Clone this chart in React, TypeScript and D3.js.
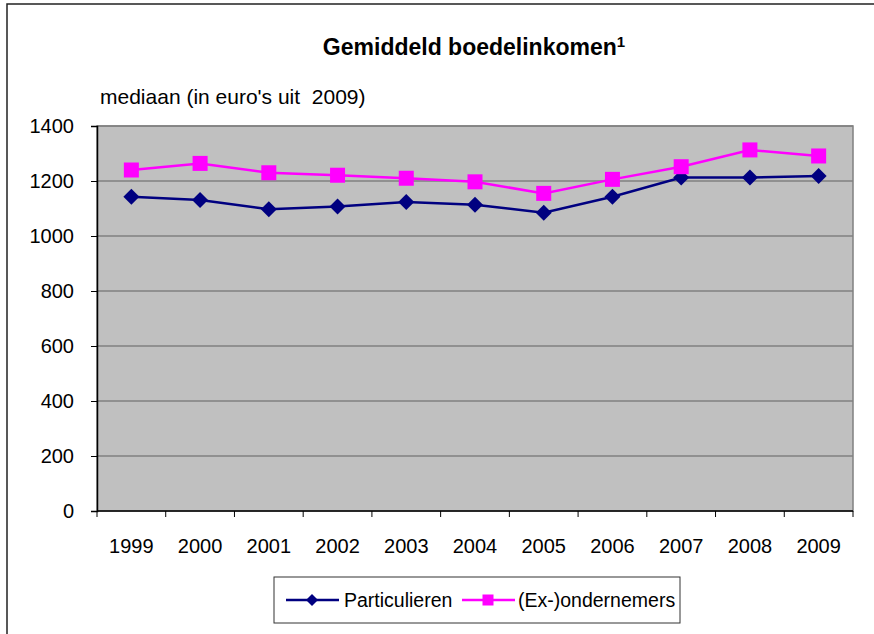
import React, { useEffect, useRef } from "react";
import * as d3 from "d3";

// jaren en mediane boedelinkomens (euro's van 2009)
const years = ["1999", "2000", "2001", "2002", "2003", "2004", "2005", "2006", "2007", "2008", "2009"];
const particulieren = [1143, 1131, 1097, 1107, 1124, 1114, 1085, 1143, 1213, 1213, 1218];
const exOndernemers = [1240, 1264, 1230, 1221, 1210, 1197, 1155, 1206, 1252, 1313, 1291];
const yTicks = [0, 200, 400, 600, 800, 1000, 1200, 1400];

const seriesNames = ["Particulieren", "(Ex-)ondernemers"];
const seriesColors = ["#000080", "#ff00ff"];

const W = 874;
const H = 634;
const FONT = "'Liberation Sans', Arial, sans-serif";

function App() {
    const svgRef = useRef<SVGSVGElement>(null);

    useEffect(() => {
        const svg = d3.select(svgRef.current);
        svg.selectAll("*").remove();

        const left = 97, right = 853, top = 126, bottom = 511;

        const x = d3.scaleBand().domain(years).range([left, right]).padding(0);
        const y = d3.scaleLinear().domain([0, 1400]).range([bottom, top]);

        // outer frame
        svg.append("rect")
            .attr("x", 7).attr("y", 4)
            .attr("width", W + 20).attr("height", H + 20)
            .attr("fill", "white").attr("stroke", "#222").attr("stroke-width", 1.5);

        // title
        const title = svg.append("text")
            .attr("x", 474).attr("y", 55)
            .attr("text-anchor", "middle")
            .attr("font-family", FONT).attr("font-weight", "bold").attr("font-size", 23);
        title.append("tspan").text("Gemiddeld boedelinkomen");
        title.append("tspan").attr("font-size", 15).attr("dy", -8).text("1");

        svg.append("text")
            .attr("x", 100).attr("y", 104)
            .attr("font-family", FONT).attr("font-size", 21)
            .attr("xml:space", "preserve")
            .text("mediaan (in euro's uit  2009)");

        // plot area
        svg.append("rect")
            .attr("x", left).attr("y", top)
            .attr("width", right - left).attr("height", bottom - top)
            .attr("fill", "#c0c0c0").attr("stroke", "#808080").attr("stroke-width", 1.5);

        svg.append("g")
            .selectAll("line")
            .data(yTicks.filter(t => t > 0))
            .join("line")
            .attr("x1", left).attr("x2", right)
            .attr("y1", d => y(d)).attr("y2", d => y(d))
            .attr("stroke", "#808080").attr("stroke-width", 1.5);

        // y axis
        const yAxis = svg.append("g")
            .attr("transform", `translate(${left},0)`)
            .call(d3.axisLeft(y).tickValues(yTicks).tickFormat(d3.format("d")).tickSize(6).tickPadding(17));
        yAxis.select(".domain").attr("stroke", "#000").attr("stroke-width", 1.5);
        yAxis.selectAll(".tick line").attr("stroke", "#000");
        yAxis.selectAll("text")
            .attr("font-family", FONT).attr("font-size", 20).attr("fill", "#000");

        // x axis with ticks between categories
        const xAxisG = svg.append("g");
        xAxisG.append("line")
            .attr("x1", left).attr("x2", right)
            .attr("y1", bottom).attr("y2", bottom)
            .attr("stroke", "#000").attr("stroke-width", 1.5);
        const edges = years.map(yr => x(yr) as number).concat([right]);
        xAxisG.selectAll(".xt")
            .data(edges)
            .join("line")
            .attr("x1", d => d).attr("x2", d => d)
            .attr("y1", bottom).attr("y2", bottom + 6)
            .attr("stroke", "#000");
        xAxisG.selectAll(".xl")
            .data(years)
            .join("text")
            .attr("x", d => (x(d) as number) + x.bandwidth() / 2)
            .attr("y", 553)
            .attr("text-anchor", "middle")
            .attr("font-family", FONT).attr("font-size", 20)
            .text(d => d);

        const cx = (i: number) => (x(years[i]) as number) + x.bandwidth() / 2;
        const line = d3.line<number>().x((_, i) => cx(i)).y(d => y(d));

        const diamond = (g: any, px: number, py: number, r: number, color: string) =>
            g.append("path")
                .attr("d", `M${px},${py - r}L${px + r},${py}L${px},${py + r}L${px - r},${py}Z`)
                .attr("fill", color);
        const square = (g: any, px: number, py: number, s: number, color: string) =>
            g.append("rect")
                .attr("x", px - s / 2).attr("y", py - s / 2)
                .attr("width", s).attr("height", s)
                .attr("fill", color);

        [particulieren, exOndernemers].forEach((vals, si) => {
            const g = svg.append("g");
            g.append("path")
                .datum(vals)
                .attr("d", line)
                .attr("fill", "none")
                .attr("stroke", seriesColors[si])
                .attr("stroke-width", 2.5);
            vals.forEach((v, i) => {
                if (si === 0) diamond(g, cx(i), y(v), 8, seriesColors[si]);
                else square(g, cx(i), y(v), 15, seriesColors[si]);
            });
        });

        // legend
        const lg = svg.append("g");
        lg.append("rect")
            .attr("x", 274).attr("y", 577).attr("width", 406).attr("height", 46)
            .attr("fill", "white").attr("stroke", "#333").attr("stroke-width", 1);
        const items = [
            { mx: 286, tx: 344 },
            { mx: 462, tx: 518 },
        ];
        items.forEach((it, i) => {
            lg.append("line")
                .attr("x1", it.mx).attr("x2", it.mx + 53)
                .attr("y1", 600).attr("y2", 600)
                .attr("stroke", seriesColors[i]).attr("stroke-width", 2.5);
            if (i === 0) diamond(lg, it.mx + 26, 600, 6, seriesColors[i]);
            else square(lg, it.mx + 26, 600, 11, seriesColors[i]);
            lg.append("text")
                .attr("x", it.tx).attr("y", 607)
                .attr("font-family", FONT).attr("font-size", 19.5)
                .text(seriesNames[i]);
        });
    }, []);

    return (
        <svg
            ref={svgRef}
            width={W}
            height={H}
            style={{ position: "absolute", left: 0, top: 0, background: "white" }}
        />
    );
}

export default App;
